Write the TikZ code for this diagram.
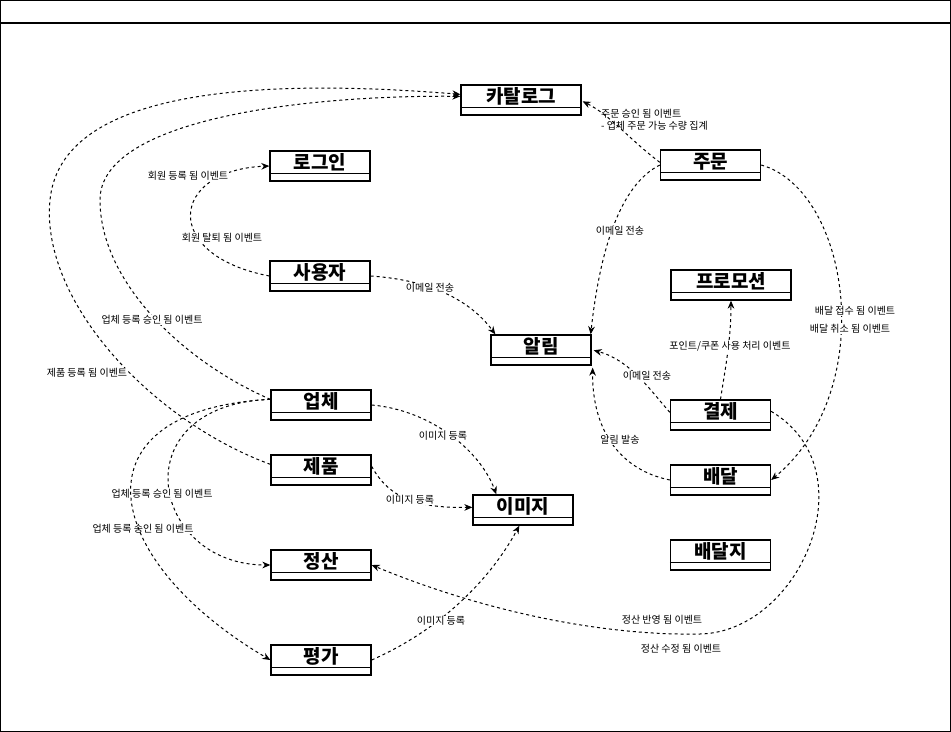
\documentclass[tikz,border=0pt]{standalone}
\usepackage{fontspec}
\setmainfont{Noto Sans CJK KR}
\usetikzlibrary{arrows.meta,calc}
\begin{document}
\begin{tikzpicture}[x=0.75pt,y=-0.75pt,
  entity/.style={draw, line width=1pt, inner sep=0pt, minimum height=22.5pt,
    minimum width=75pt, text height=14pt, text depth=8.5pt,
    font=\fontsize{14.25pt}{16pt}\selectfont\bfseries},
  wide/.style={minimum width=90pt},
  flow/.style={dash pattern=on 2.25pt off 2.25pt, line width=0.75pt,
    -{Stealth[length=6pt,width=5pt]}},
  lbl/.style={fill=white, inner sep=0.6pt, font=\fontsize{7.5pt}{9pt}\selectfont},
  lblleft/.style={lbl, align=left, fill=none},
]
\useasboundingbox (0,0) rectangle (951,732);

% outer frame with its title strip
\draw[line width=1pt] (0.7,0.7) rectangle (950.3,731.3);
\draw[line width=1pt] (0.7,23) -- (950.3,23);

% entities
\node[entity, wide] (catalog) at (521,100)   {카탈로그};
\node[entity]       (order)   at (710.5,165) {주문};
\node[entity]       (login)   at (320,166)   {로그인};
\node[entity]       (user)    at (320,276)   {사용자};
\node[entity]       (notify)  at (541,350)   {알림};
\node[entity, wide] (promo)   at (731,285)   {프로모션};
\node[entity]       (pay)     at (720.5,415) {결제};
\node[entity]       (deliv)   at (720.5,480) {배달};
\node[entity]       (vendor)  at (321,405)   {업체};
\node[entity]       (product) at (321,470)   {제품};
\node[entity]       (image)   at (523,510)   {이미지};
\node[entity]       (settle)  at (321,565)   {정산};
\node[entity]       (review)  at (321,660)   {평가};
\node[entity]       (addr)    at (720.5,555) {배달지};

% compartment dividers
\foreach \n in {catalog,order,login,user,notify,promo,pay,deliv,vendor,product,image,settle,review,addr}
  \draw[line width=1pt] ($(\n.north west)+(0,23)$) -- ($(\n.north east)+(0,23)$);

% vendor / product -> catalog
\draw[flow] ($(vendor.north west)+(0,10)$) .. controls (180,360) and (100,280) .. (100,200)
  .. controls (100,120) and (300,95) .. ($(catalog.north west)+(0,12)$);
\draw[flow] ($(product.north west)+(0,10)$) .. controls (150,420) and (40,300) .. (50,200)
  .. controls (60,100) and (220,75) .. ($(catalog.north west)+(0,10)$);
\node[lbl] (l1) at (152,320) {업체 등록 승인 됨 이벤트};
\node[lbl] (l2) at (87,373)  {제품 등록 됨 이벤트};

% vendor -> settlement / review
\draw[flow] ($(vendor.north west)+(0,10)$) .. controls (120,405) and (150,565) .. (settle.west);
\node[lbl] (l3) at (162,494) {업체 등록 승인 됨 이벤트};
\node[lbl] (l4) at (143,529) {업체 등록 승인 됨 이벤트};
\draw[flow] ($(vendor.north west)+(0,10)$) .. controls (70,410) and (100,560) .. (review.west);

% image registration
\draw[flow] (vendor.east) .. controls (430,410) and (480,450) .. ($(image.north west)+(24,0)$);
\node[lbl] (l5) at (443,436) {이미지 등록};
\draw[flow] ($(product.north east)+(0,12)$) .. controls (390,500) and (420,508) .. ($(image.north west)+(0,13)$);
\node[lbl] (l6) at (410,500) {이미지 등록};
\draw[flow] (review.east) .. controls (440,630) and (490,580) .. ($(image.south west)+(47,0)$);
\node[lbl] (l7) at (441,621) {이미지 등록};

% member events
\draw[flow] (user.west) .. controls (160,255) and (170,170) .. (login.west);
\node[lbl] (l8) at (188,176) {회원 등록 됨 이벤트};
\node[lbl] (l9) at (222,238) {회원 탈퇴 됨 이벤트};

% notifications
\draw[flow] (user.east) .. controls (430,280) and (470,300) .. ($(notify.north west)+(5,0)$);
\node[lbl] (l10) at (430,288) {이메일 전송};
\draw[flow] (order.west) .. controls (620,185) and (600,250) .. ($(notify.north east)+(-1,0)$);
\node[lbl] (l11) at (620,231) {이메일 전송};
\draw[flow] ($(pay.north west)+(0,13)$) .. controls (650,390) and (630,360) .. ($(notify.north east)+(2,16)$);
\node[lbl] (l12) at (647,376) {이메일 전송};
\draw[flow] (deliv.west) .. controls (620,470) and (592,430) .. ($(notify.south east)+(1,2)$);
\node[lbl] (l13) at (620,440) {알림 발송};

% order -> catalog
\draw[flow] ($(order.north west)+(0,13)$) .. controls (630,140) and (610,115) .. ($(catalog.north east)+(1,17)$);
\node[lblleft, anchor=west] (l14) at (600,120) {주문 승인 됨 이벤트\\- 업체 주문 가능 수량 집계};

% order -> delivery
\draw[flow] (order.east) .. controls (850,190) and (880,390) .. (deliv.east);
\node[lbl] (l15) at (855,311) {배달 접수 됨 이벤트};
\node[lbl] (l16) at (850,329) {배달 취소 됨 이벤트};

% payment -> promotion
\draw[flow] (pay.north) .. controls (725,370) and (731,340) .. (promo.south);
\node[lbl] (l17) at (730,346) {포인트/쿠폰 사용 처리 이벤트};

% payment -> settlement
\draw[flow] ($(pay.north east)+(0,12)$) .. controls (870,470) and (800,632) .. (700,634)
  .. controls (600,636) and (480,610) .. (settle.east);
\node[lbl] (l18) at (662,620) {정산 반영 됨 이벤트};
\node[lbl] (l19) at (681,649) {정산 수정 됨 이벤트};
\end{tikzpicture}
\end{document}
